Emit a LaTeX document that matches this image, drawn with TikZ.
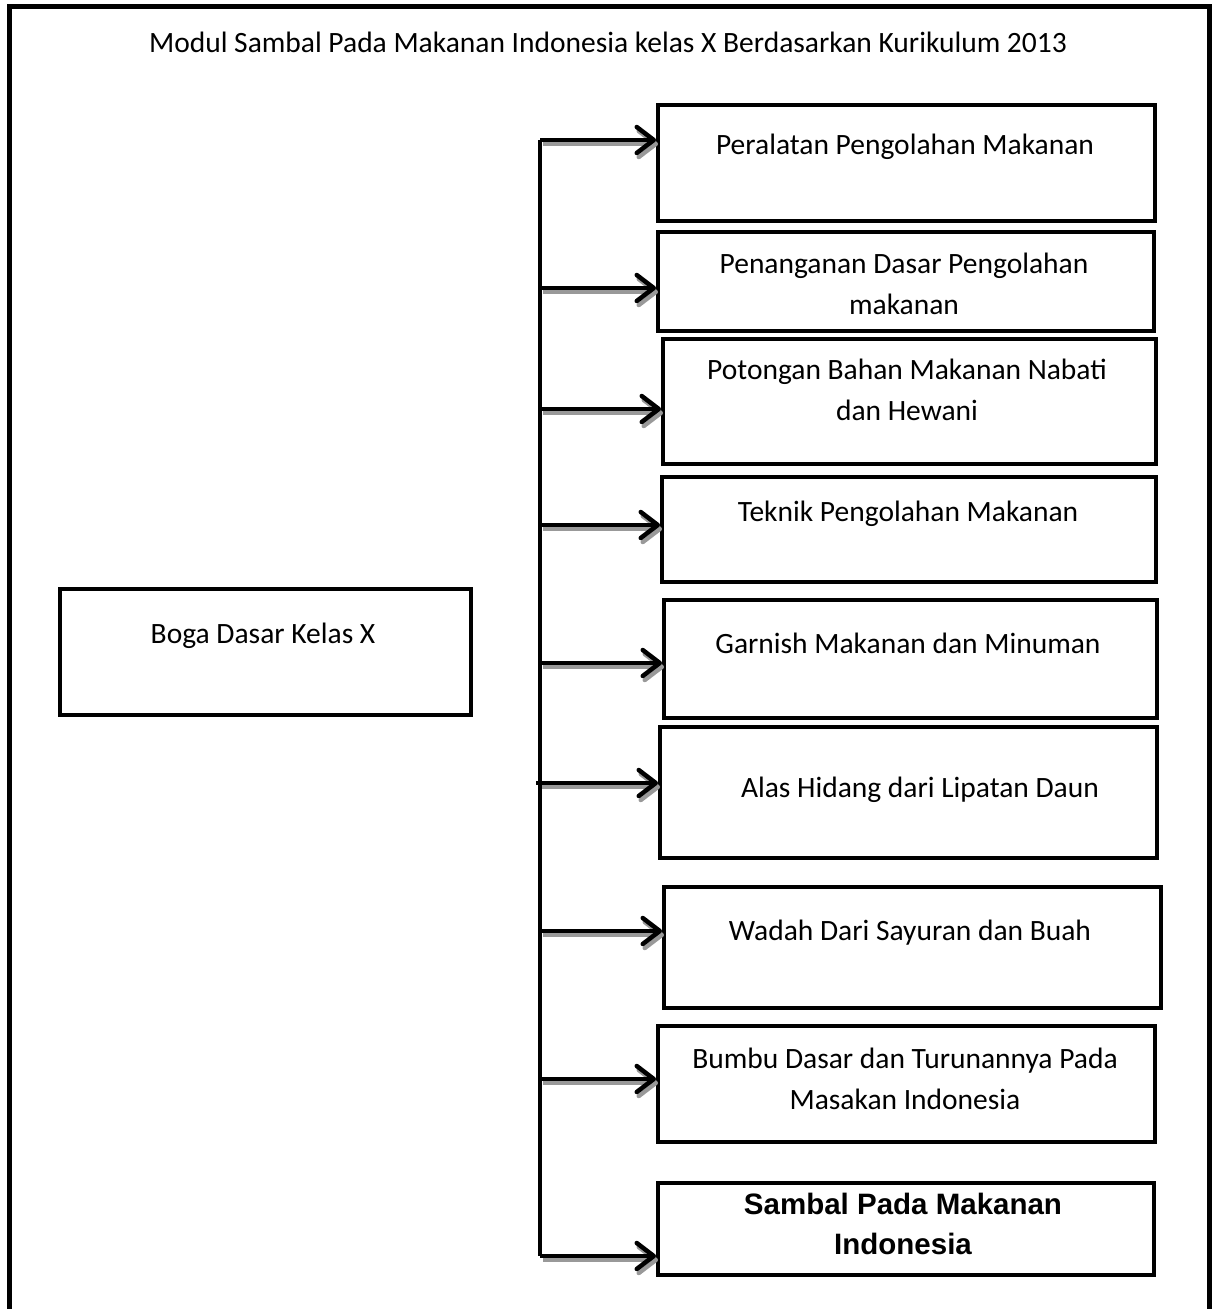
\documentclass[tikz,border=0pt]{standalone}
\usepackage{fontspec}
\setmainfont{Carlito}
\newfontfamily\arialfont{Liberation Sans}
\usetikzlibrary{arrows.meta}
\tikzset{
  box/.style={draw=black, line width=4pt, anchor=north west, inner sep=0pt},
  lbl/.style={font=\fontsize{29.5}{41}\selectfont, align=center, inner sep=0pt},
  conn/.style={line width=4.5pt, -{Straight Barb[length=17pt,width=26pt,line cap=round,line join=round]}},
  shadowconn/.style={line width=4.5pt, draw=black!40, -{Straight Barb[length=17pt,width=26pt,line cap=round,line join=round]}},
}
\begin{document}
\begin{tikzpicture}[x=1pt,y=-1pt]
\useasboundingbox (0,0) rectangle (1216,1309);
% outer frame
\draw[line width=5pt] (9,1320) -- (9,6) -- (1209,6) -- (1209,1320);
\node[lbl] (title) at (608,42) {Modul Sambal Pada Makanan Indonesia kelas X Berdasarkan Kurikulum 2013};
% left box
\node[box, minimum width=411pt, minimum height=126pt] (boga) at (58,587) {};
\node[lbl] (bogat) at (263,636) {Boga Dasar Kelas X};
% right boxes
\node[box, minimum width=497pt, minimum height=116pt] (b1) at (656,103) {};
\node[box, minimum width=496pt, minimum height=99pt] (b2) at (656,230) {};
\node[box, minimum width=493pt, minimum height=125pt] (b3) at (661,337) {};
\node[box, minimum width=494pt, minimum height=105pt] (b4) at (660,475) {};
\node[box, minimum width=493pt, minimum height=118pt] (b5) at (662,598) {};
\node[box, minimum width=497pt, minimum height=131pt] (b6) at (658,725) {};
\node[box, minimum width=497pt, minimum height=121pt] (b7) at (662,885) {};
\node[box, minimum width=497pt, minimum height=116pt] (b8) at (656,1024) {};
\node[box, minimum width=496pt, minimum height=92pt] (b9) at (656,1181) {};
\node[lbl] (t1) at (905,147) {Peralatan Pengolahan Makanan};
\node[lbl] (t2) at (904,284) {Penanganan Dasar Pengolahan\\makanan};
\node[lbl] (t3) at (907,390) {Potongan Bahan Makanan Nabati\\dan Hewani};
\node[lbl] (t4) at (908,514) {Teknik Pengolahan Makanan};
\node[lbl] (t5) at (908,643) {Garnish Makanan dan Minuman};
\node[lbl] (t6) at (920,790) {Alas Hidang dari Lipatan Daun};
\node[lbl] (t7) at (910,933) {Wadah Dari Sayuran dan Buah};
\node[lbl] (t8) at (905,1079) {Bumbu Dasar dan Turunannya Pada\\Masakan Indonesia};
\node[lbl, font=\arialfont\bfseries\fontsize{29.5}{40}\selectfont] (t9) at (903,1224) {Sambal Pada Makanan\\Indonesia};
% trunk points
\coordinate (c1) at (540,140);
\coordinate (c2) at (540,288);
\coordinate (c3) at (540,409);
\coordinate (c4) at (540,525);
\coordinate (c5) at (540,663);
\coordinate (c6) at (536,783);
\coordinate (c7) at (540,931);
\coordinate (c8) at (540,1079);
\coordinate (c9) at (540,1256);
% shadows
\foreach \i in {1,...,9}{
  \draw[shadowconn] ([shift={(3,4)}]c\i) -- ([shift={(2,4)}]c\i -| b\i.west);
}
% trunk
\draw[line width=4.5pt] (c1) -- (c9);
% connectors
\foreach \i in {1,...,9}{
  \draw[conn] (c\i) -- (c\i -| b\i.west);
}
\end{tikzpicture}
\end{document}
